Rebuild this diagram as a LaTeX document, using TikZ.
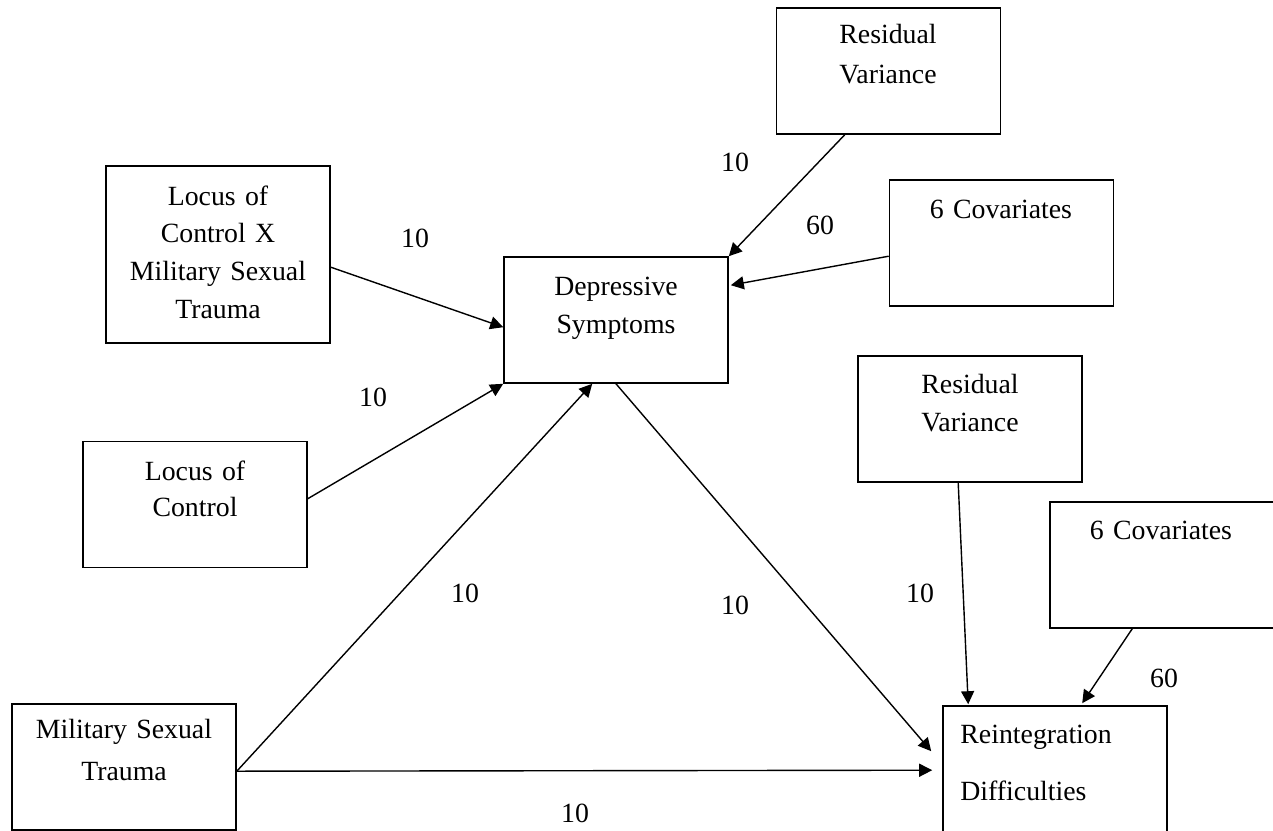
\documentclass[tikz,border=0pt]{standalone}
\usepackage{fontspec}
\setmainfont{Liberation Serif}
\usetikzlibrary{arrows.meta,calc}
\begin{document}
\begin{tikzpicture}[x=0.5pt,y=-0.5pt,
  box/.style={draw, line width=0.8pt, minimum width=112pt, minimum height=63pt, inner sep=0pt},
  txt/.style={anchor=base, inner sep=0pt, text width=110pt, align=center,
    font=\fontsize{13.9}{#1}\selectfont},
  txt/.default=19,
  num/.style={inner sep=0pt, font=\fontsize{13.9}{16}\selectfont},
  link/.style={draw, line width=0.7pt, -{Triangle[length=6.5pt,width=6.5pt]}}]
\useasboundingbox (0,0) rectangle (1273,830);

% variable boxes
\node[box] (rv1) at (888.5,71) {};
\node[box, minimum height=88.5pt] (lxm) at (218,254.5) {};
\node[box] (ds) at (616,320) {};
\node[box] (cov1) at (1001.5,243) {};
\node[box] (loc) at (195,504.5) {};
\node[box] (rv2) at (970,419) {};
\node[box] (cov2) at (1162,565) {};
\node[box] (mst) at (124,767) {};
\node[box] (rd) at (1055,769) {};

% box texts
\node[txt=20] (rv1-t) at (888,43) {Residual\\Variance};
\node[txt=18.85] (lxm-t) at (218,205) {Locus of\\Control X\\Military Sexual\\Trauma};
\node[txt] (ds-t) at (616,295) {Depressive\\Symptoms};
\node[txt] (cov1-t) at (1001,218) {6 Covariates};
\node[txt=18] (loc-t) at (195,480) {Locus of\\Control};
\node[txt] (rv2-t) at (970,393) {Residual\\Variance};
\node[txt] (cov2-t) at (1161,539) {6 Covariates};
\node[txt=21] (mst-t) at (124,738) {Military Sexual\\Trauma};
\node[txt=28.5, align=left, anchor=base west] (rd-t) at (960,743) {Reintegration\\Difficulties};

% paths
\draw[link] ($(lxm.north east)+(0,102)$) -- ($(ds.north west)+(0,71)$);
\draw[link] ($(loc.north east)+(0,58)$) -- (ds.south west);
\draw[link] ($(mst.north east)+(0,68)$) coordinate (mst-o) -- ($(ds.south west)+(89,0)$);
\draw[link] (mst-o) -- ($(rd.north west)+(-10,65)$);
\draw[link] (ds.south) -- ($(rd.north west)+(-11,46)$);
\draw[link] ($(rv1.south west)+(69,0)$) -- (ds.north east);
\draw[link] ($(cov1.north west)+(0,77)$) -- ($(ds.north east)+(2,29)$);
\draw[link] ($(rv2.south west)+(101,0)$) -- ($(rd.north west)+(26,-1)$);
\draw[link] ($(cov2.south west)+(83,0)$) -- ($(rd.north west)+(140,-2)$);

% path coefficients
\node[num] (n1) at (735,162) {10};
\node[num] (n2) at (820,225) {60};
\node[num] (n3) at (415,238) {10};
\node[num] (n4) at (373,397) {10};
\node[num] (n5) at (465,593) {10};
\node[num] (n6) at (735,605) {10};
\node[num] (n7) at (920,593) {10};
\node[num] (n8) at (1164,678) {60};
\node[num] (n9) at (575,813) {10};
\end{tikzpicture}
\end{document}
